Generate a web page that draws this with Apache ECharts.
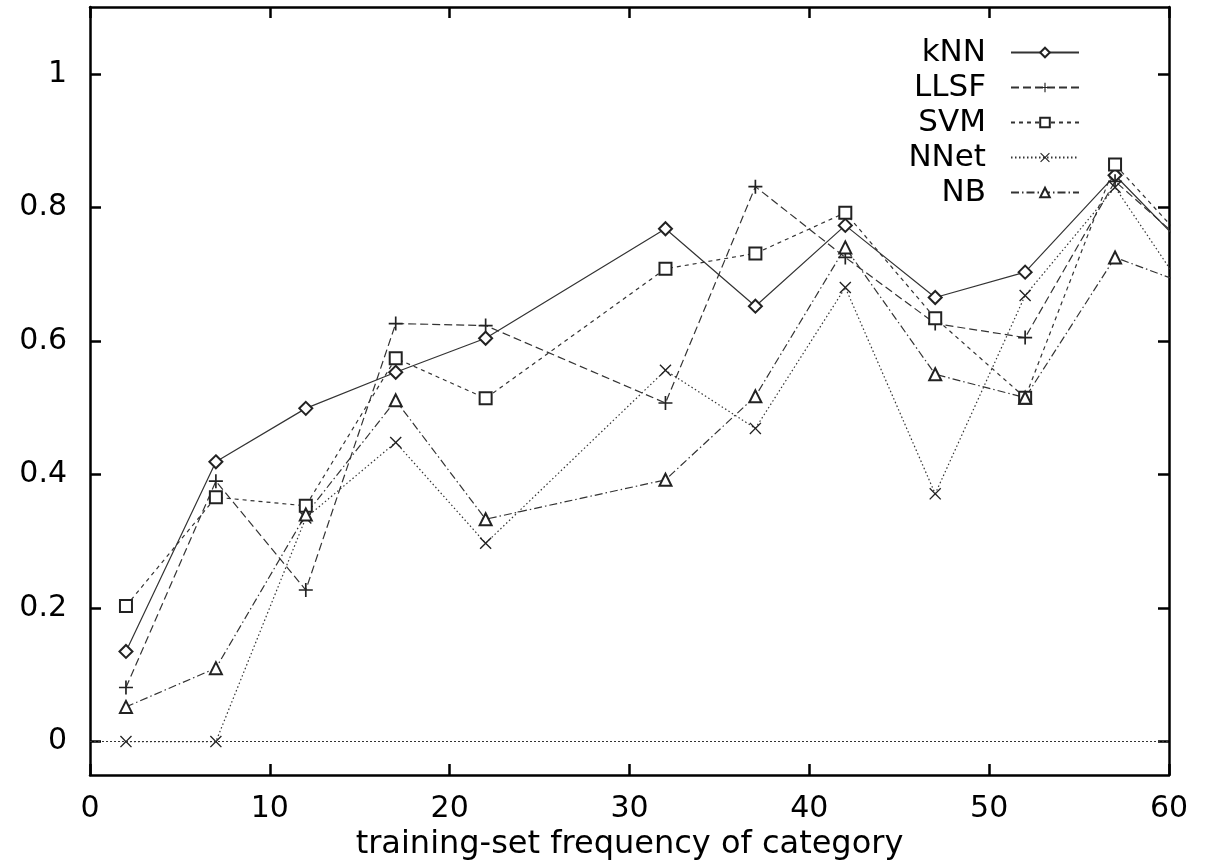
<!DOCTYPE html>
<html>
<head>
  <meta charset="UTF-8">
  <title>training-set frequency</title>
  <script src="https://cdn.jsdelivr.net/npm/echarts@6/dist/echarts.min.js"></script>
  <style>
    html, body { margin: 0; padding: 0; background: #fff; }
    #main { width: 1205px; height: 862px; }
  </style>
</head>
<body>
<div id="main"></div>
<script>
  // category frequencies (last one lies just past the axis end and gets clipped)
  const xValues = [2, 7, 12, 17, 22, 32, 37, 42, 47, 52, 57, 62];
  const knn  = [0.135, 0.419, 0.499, 0.553, 0.604, 0.768, 0.652, 0.773, 0.665, 0.703, 0.848, 0.71];
  const llsf = [0.081, 0.390, 0.227, 0.626, 0.623, 0.507, 0.831, 0.725, 0.626, 0.605, 0.839, 0.72];
  const svm  = [0.203, 0.366, 0.353, 0.574, 0.514, 0.708, 0.731, 0.792, 0.634, 0.515, 0.864, 0.717];
  const nnet = [0, 0, 0.335, 0.448, 0.297, 0.556, 0.469, 0.680, 0.371, 0.668, 0.830, 0.63];
  const nb   = [0.052, 0.110, 0.340, 0.511, 0.333, 0.392, 0.517, 0.740, 0.550, 0.515, 0.725, 0.675];
  const yTicks = [0, 0.2, 0.4, 0.6, 0.8, 1];
  const xTicks = [0, 10, 20, 30, 40, 50, 60];

  const FONT = '"DejaVu Sans", "Liberation Sans", sans-serif';
  const LINE = '#333';
  const MARK = '#222';
  const PLUS = 'path://M4.4,0H5.6V4.4H10V5.6H5.6V10H4.4V5.6H0V4.4H4.4Z';
  const CROSS = 'path://M0.8,0L5,4.2L9.2,0L10,0.8L5.8,5L10,9.2L9.2,10L5,5.8L0.8,10L0,9.2L4.2,5L0,0.8Z';

  function pairs(ys) {
    return xValues.map(function (x, i) { return [x, ys[i]]; });
  }

  function makeSeries(name, ys, symbol, size, dash, empty) {
    return {
      name: name,
      type: 'line',
      data: pairs(ys),
      clip: true,
      symbol: symbol,
      symbolSize: size,
      showAllSymbol: true,
      itemStyle: {
        color: MARK,
        borderWidth: empty ? 1.3 : 0
      },
      lineStyle: { color: LINE, width: 1.2, type: dash },
      emphasis: { disabled: true },
      z: 3
    };
  }

  let series = [
    makeSeries('kNN', knn, 'emptyDiamond', 13, 'solid', true),
    makeSeries('LLSF', llsf, PLUS, 14, [8, 4], false),
    makeSeries('SVM', svm, 'emptyRect', 12, [4, 4], true),
    makeSeries('NNet', nnet, CROSS, 12, [1.5, 2.5], false),
    makeSeries('NB', nb, 'emptyTriangle', 12, [8, 3, 1.5, 3], true)
  ];
  // gnuplot style zero axis
  series[3].markLine = {
    silent: true,
    symbol: 'none',
    label: { show: false },
    lineStyle: { color: LINE, width: 1, type: [2, 2] },
    data: [{ yAxis: 0 }]
  };

  let frameLine = { show: true, onZero: false, lineStyle: { color: '#000', width: 2.5 } };
  let tickIn = { show: true, inside: true, length: 11, lineStyle: { color: '#000', width: 2.5 } };

  let myChart = echarts.init(document.getElementById('main'), null, { renderer: 'canvas' });
  let option = {
    backgroundColor: '#fff',
    animation: false,
    textStyle: { fontFamily: FONT },
    grid: { left: 90, right: 36, top: 7, bottom: 87, outerBoundsMode: 'none', containLabel: false },
    legend: {
      orient: 'vertical',
      align: 'right',
      right: 125,
      top: 37,
      padding: 0,
      itemGap: 4,
      itemWidth: 68,
      itemHeight: 12,
      selectedMode: false,
      textStyle: { fontFamily: FONT, fontSize: 31, color: '#000', padding: [0, 20, 0, 0] },
      data: ['kNN', 'LLSF', 'SVM', 'NNet', 'NB']
    },
    xAxis: [{
      type: 'value',
      min: 0,
      max: 60,
      interval: 10,
      position: 'bottom',
      name: 'training-set frequency of category',
      nameLocation: 'middle',
      nameGap: 51,
      nameTextStyle: { fontFamily: FONT, fontSize: 32, color: '#000' },
      axisLine: frameLine,
      axisTick: tickIn,
      axisLabel: { fontFamily: FONT, fontSize: 30, color: '#000', margin: 19, customValues: xTicks },
      splitLine: { show: false }
    }, {
      type: 'value',
      min: 0,
      max: 60,
      interval: 10,
      position: 'top',
      axisLine: frameLine,
      axisTick: tickIn,
      axisLabel: { show: false },
      splitLine: { show: false }
    }],
    yAxis: [{
      type: 'value',
      min: -0.05,
      max: 1.1,
      position: 'left',
      axisLine: frameLine,
      axisTick: Object.assign({ customValues: yTicks }, tickIn),
      axisLabel: { fontFamily: FONT, fontSize: 30, color: '#000', margin: 23, customValues: yTicks },
      splitLine: { show: false }
    }, {
      type: 'value',
      min: -0.05,
      max: 1.1,
      position: 'right',
      axisLine: frameLine,
      axisTick: Object.assign({ customValues: yTicks }, tickIn),
      axisLabel: { show: false },
      splitLine: { show: false }
    }],
    series: series
  };
  myChart.setOption(option);

  window.addEventListener('resize', function () {
    myChart.resize();
  });
</script>
</body>
</html>
